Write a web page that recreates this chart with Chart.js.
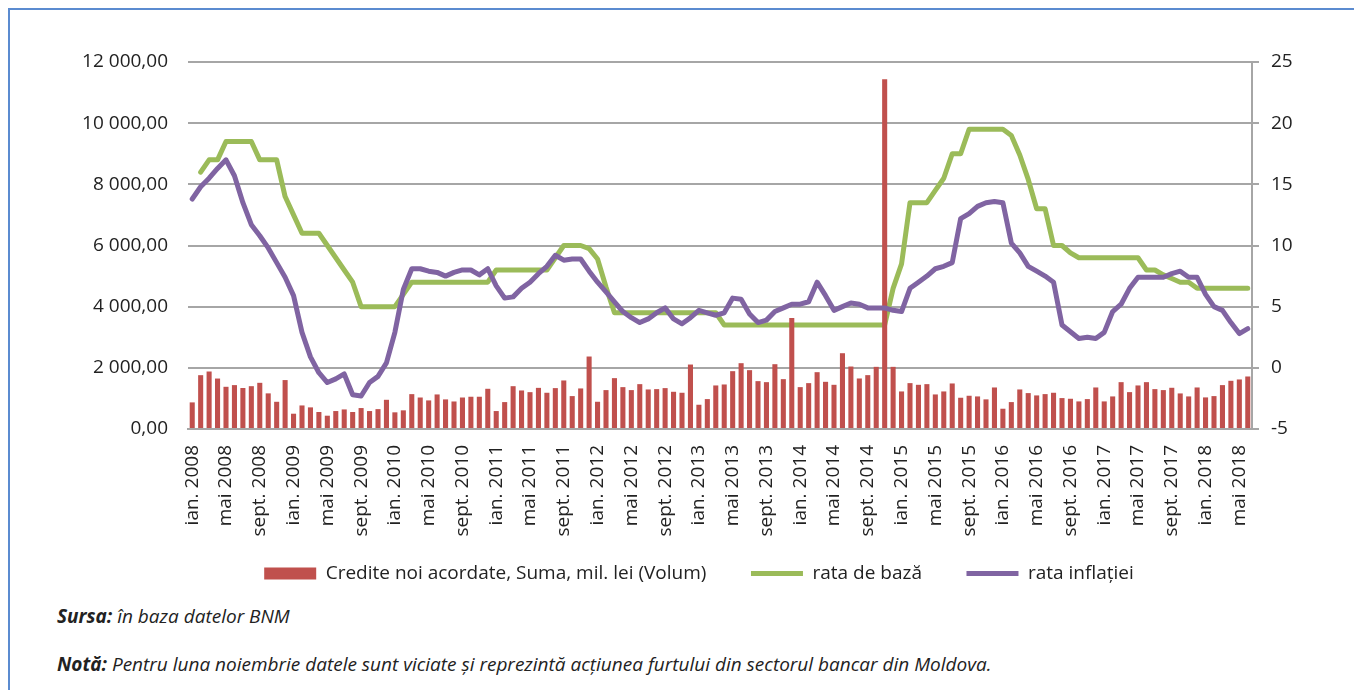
<!DOCTYPE html>
<html>
<head>
<meta charset="utf-8">
<script src="https://cdn.jsdelivr.net/npm/chart.js@4"></script>
<style>
  body { margin: 0; background: #fff; width: 1354px; height: 690px; overflow: hidden; position: relative; font-family: "Open Sans", sans-serif; }
  #frame { position: absolute; left: 8px; top: 8px; width: 1360px; height: 700px; border-left: 2px solid #5b8bd0; border-top: 2px solid #5b8bd0; }
  #wrap { position: absolute; left: 0; top: 0; width: 1354px; height: 600px; }
  .note { position: absolute; left: 57px; font-size: 19px; font-style: italic; color: #222; white-space: nowrap; }
  .note b { font-weight: 700; }
</style>
</head>
<body>
<div id="frame"></div>
<div id="wrap"><canvas id="chart"></canvas></div>
<div class="note" style="top:603px"><b>Sursa:</b> în baza datelor BNM</div>
<div class="note" style="top:651px"><b>Notă:</b> Pentru luna noiembrie datele sunt viciate și reprezintă acțiunea furtului din sectorul bancar din Moldova.</div>
<script>
var months = ['ian.', 'feb.', 'mar.', 'apr.', 'mai', 'iun.', 'iul.', 'aug.', 'sept.', 'oct.', 'nov.', 'dec.'];
var years = [2008, 2009, 2010, 2011, 2012, 2013, 2014, 2015, 2016, 2017, 2018];

// credite noi acordate, mil. lei (ian. 2008 - iun. 2018)
var credite = [
    870, 1760, 1880, 1650, 1380, 1435, 1340, 1400, 1510, 1165, 890, 1600,
    500, 770, 707, 555, 435, 587, 640, 555, 685, 587, 650, 955,
    545, 610, 1140, 1030, 935, 1130, 968, 900, 1030, 1055, 1055, 1315,
    587, 880, 1400, 1260, 1205, 1345, 1185, 1337, 1587, 1076, 1326, 2370,
    891, 1272, 1663, 1369, 1272, 1467, 1293, 1304, 1337, 1217, 1185, 2108,
    793, 978, 1424, 1456, 1891, 2152, 1924, 1565, 1532, 2119, 1630, 3630,
    1369, 1500, 1858, 1543, 1445, 2478, 2043, 1652, 1761, 2032, 11434, 2032,
    1228, 1500, 1445, 1467, 1130, 1228, 1489, 1022, 1087, 1065, 969, 1358,
    663, 880, 1293, 1174, 1098, 1141, 1185, 1011, 989, 902, 978, 1358,
    902, 1065, 1532, 1206, 1424, 1532, 1304, 1272, 1348, 1163, 1065, 1358,
    1033, 1076, 1435, 1576, 1620, 1717
];

var rataBaza = [
    null, 16, 17, 17, 18.5, 18.5, 18.5, 18.5, 17, 17, 17, 14,
    12.5, 11, 11, 11, 10, 9, 8, 7, 5, 5, 5, 5,
    5, 6, 7, 7, 7, 7, 7, 7, 7, 7, 7, 7,
    8, 8, 8, 8, 8, 8, 8, 9, 10, 10, 10, 9.75,
    8.9, 6.6, 4.5, 4.5, 4.5, 4.5, 4.5, 4.5, 4.5, 4.5, 4.5, 4.5,
    4.5, 4.5, 4.5, 3.5, 3.5, 3.5, 3.5, 3.5, 3.5, 3.5, 3.5, 3.5,
    3.5, 3.5, 3.5, 3.5, 3.5, 3.5, 3.5, 3.5, 3.5, 3.5, 3.5, 6.5,
    8.5, 13.5, 13.5, 13.5, 14.5, 15.5, 17.5, 17.5, 19.5, 19.5, 19.5, 19.5,
    19.5, 19, 17.4, 15.4, 13, 13, 10, 10, 9.4, 9, 9, 9,
    9, 9, 9, 9, 9, 8, 8, 7.6, 7.3, 7, 7, 6.5,
    6.5, 6.5, 6.5, 6.5, 6.5, 6.5
];

var rataInflatiei = [
    13.8, 14.8, 15.5, 16.3, 17.0, 15.7, 13.5, 11.7, 10.8, 9.8, 8.6, 7.4,
    5.9, 2.9, 0.9, -0.4, -1.2, -0.9, -0.5, -2.2, -2.3, -1.2, -0.7, 0.4,
    2.9, 6.4, 8.1, 8.1, 7.9, 7.8, 7.5, 7.8, 8.0, 8.0, 7.6, 8.1,
    6.7, 5.7, 5.8, 6.5, 7.0, 7.7, 8.3, 9.2, 8.8, 8.9, 8.9, 7.9,
    7.0, 6.2, 5.4, 4.6, 4.1, 3.7, 4.0, 4.5, 4.9, 4.0, 3.6, 4.1,
    4.7, 4.5, 4.3, 4.5, 5.7, 5.6, 4.4, 3.7, 3.9, 4.6, 4.9, 5.2,
    5.2, 5.4, 7.0, 5.9, 4.7, 5.0, 5.3, 5.2, 4.9, 4.9, 4.9, 4.7,
    4.6, 6.5, 7.0, 7.5, 8.1, 8.3, 8.6, 12.2, 12.6, 13.2, 13.5, 13.6,
    13.5, 10.2, 9.4, 8.3, 7.9, 7.5, 7.0, 3.5, 2.95, 2.4, 2.5, 2.4,
    2.9, 4.6, 5.2, 6.5, 7.4, 7.4, 7.4, 7.4, 7.7, 7.9, 7.4, 7.4,
    6.0, 5.0, 4.7, 3.7, 2.8, 3.2
];

var labels = [];
years.forEach(function (y) {
    months.forEach(function (m) {
        if (labels.length < credite.length) labels.push(m + ' ' + y);
    });
});

function formatLei(v) {
    var s = Math.round(v).toString();
    s = s.replace(/\B(?=(\d{3})+(?!\d))/g, ' ');
    return s + ',00';
}

var font = { family: '"Open Sans", sans-serif', size: 19 };
var gridColor = '#a6a6a6';
var gap = '       '; // extra room between legend items

new Chart(document.getElementById('chart'), {
    data: {
        labels: labels,
        datasets: [{
            type: 'bar',
            label: 'Credite noi acordate, Suma, mil. lei (Volum)',
            data: credite,
            backgroundColor: '#c0504d',
            yAxisID: 'y',
            barPercentage: 0.6,
            categoryPercentage: 1,
            order: 2
        }, {
            type: 'line',
            label: 'rata de bază',
            data: rataBaza,
            borderColor: '#9bbb59',
            backgroundColor: '#9bbb59',
            borderWidth: 5,
            pointRadius: 0,
            tension: 0,
            borderJoinStyle: 'round',
            borderCapStyle: 'round',
            yAxisID: 'y1',
            order: 3
        }, {
            type: 'line',
            label: 'rata inflației',
            data: rataInflatiei,
            borderColor: '#8064a2',
            backgroundColor: '#8064a2',
            borderWidth: 5,
            pointRadius: 0,
            tension: 0,
            borderJoinStyle: 'round',
            borderCapStyle: 'round',
            yAxisID: 'y1',
            order: 1
        }]
    },
    options: {
        responsive: true,
        maintainAspectRatio: false,
        animation: false,
        layout: { padding: { left: 44, right: 0, top: 62, bottom: 7 } },
        plugins: {
            tooltip: { enabled: false },
            legend: {
                position: 'bottom',
                labels: {
                    usePointStyle: true,
                    pointStyleWidth: 52,
                    boxHeight: 12,
                    padding: 10,
                    color: '#222',
                    font: { family: '"Open Sans", sans-serif', size: 19 },
                    sort: function (a, b) { return a.datasetIndex - b.datasetIndex; },
                    generateLabels: function (chart) {
                        var items = Chart.defaults.plugins.legend.labels.generateLabels(chart);
                        items.forEach(function (it) {
                            it.pointStyle = it.datasetIndex === 0 ? 'rect' : 'line';
                            if (it.datasetIndex < 2) it.text = it.text + gap;
                        });
                        return items;
                    }
                }
            }
        },
        scales: {
            x: {
                grid: { display: false },
                border: { display: true, color: gridColor, width: 2 },
                ticks: {
                    autoSkip: false,
                    minRotation: 90,
                    maxRotation: 90,
                    padding: 8,
                    color: '#222',
                    font: font,
                    callback: function (v, i) { return i % 4 === 0 ? labels[i] : ''; }
                },
                afterFit: function (s) { s.height = 125; }
            },
            y: {
                position: 'left',
                min: 0,
                max: 12000,
                ticks: { stepSize: 2000, padding: 20, color: '#222', font: font, callback: formatLei },
                grid: { color: gridColor, lineWidth: 2, drawTicks: false },
                border: { display: false },
                afterFit: function (s) { s.width = 144; }
            },
            y1: {
                position: 'right',
                min: -5,
                max: 25,
                ticks: { stepSize: 5, padding: 12, color: '#222', font: font },
                grid: { drawOnChartArea: false, drawTicks: true, tickLength: 7, color: gridColor, lineWidth: 2 },
                border: { display: true, color: gridColor, width: 2 },
                afterFit: function (s) { s.width = 102; }
            }
        }
    }
});
</script>
</body>
</html>
